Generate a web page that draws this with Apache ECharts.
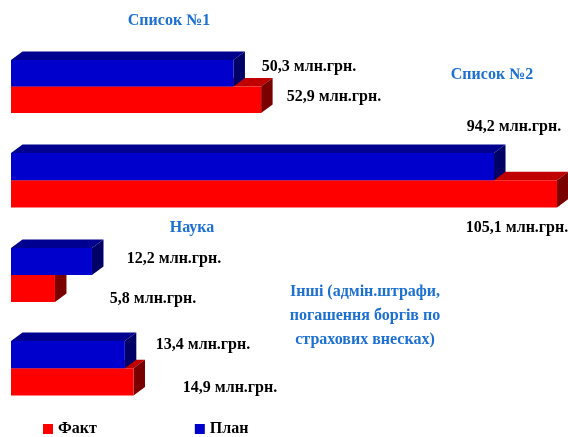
<!DOCTYPE html>
<html>
<head>
<meta charset="utf-8">
<script src="https://cdn.jsdelivr.net/npm/echarts@6/dist/echarts.min.js"></script>
<style>html,body{margin:0;padding:0;background:#fff}#c{width:568px;height:437px}</style>
</head>
<body>
<div id="c"></div>
<script>
// ---- data ----
const categories = ['Список №1', 'Список №2', 'Наука', 'Інші (адмін.штрафи,\nпогашення боргів по\nстрахових внесках)'];
const seriesNames = ['Факт', 'План'];
const factValues = [52.9, 105.1, 5.8, 14.9];
const planValues = [50.3, 94.2, 12.2, 13.4];
const unitLabel = 'млн.грн.';

// ---- layout / styles ----
const FONT = '"Liberation Serif", "Times New Roman", serif';
const panels = [
  { top: 60,  height: 53,   min: 29.4, max: 80.7,
    title: [169, 21], labels: [[334, 97], [309, 67]] },
  { top: 153, height: 54.5, min: 10.6, max: 105.1,
    title: [492, 75], labels: [[517, 228], [514, 127]] },
  { top: 248, height: 54,   min: -1.8, max: 92.6,
    title: [192, 228], labels: [[153, 299], [174, 259]] },
  { top: 341, height: 54.5, min: -6.3, max: 88.2,
    title: [365, 316], labels: [[230, 388], [203, 345]] }
];
const colors = {
  'Факт': { front: '#FF0000', top: '#C00000', side: '#7A0000' },
  'План': { front: '#0000CC', top: '#000090', side: '#000066' }
};
const DX = 11.5, DY = 8.5;

function fmt(v) { return v.toFixed(1).replace('.', ',') + ' ' + unitLabel; }

const grids = [], xAxes = [], yAxes = [], series = [], graphics = [];
panels.forEach((p, i) => {
  grids.push({ left: 11, width: 546, top: p.top, height: p.height });
  xAxes.push({ type: 'value', gridIndex: i, min: p.min, max: p.max, show: false });
  yAxes.push({ type: 'category', gridIndex: i, data: seriesNames, show: false });
  const vals = [factValues[i], planValues[i]];
  seriesNames.forEach((name, k) => {
    const col = colors[name];
    const axisMin = p.min;
    series.push({
      type: 'custom', name: name, xAxisIndex: i, yAxisIndex: i,
      itemStyle: { color: col.front },
      data: [[vals[k], k]],
      renderItem: function (params, api) {
        const v = api.value(0), c = api.value(1);
        const s = api.coord([axisMin, c]);
        const e = api.coord([v, c]);
        const h = api.size([0, 1])[1];
        const x0 = s[0], x1 = e[0], yT = e[1] - h / 2, yB = e[1] + h / 2;
        return {
          type: 'group',
          children: [
            { type: 'polygon', shape: { points: [[x0, yT], [x0 + DX, yT - DY], [x1 + DX, yT - DY], [x1, yT]] }, style: { fill: col.top } },
            { type: 'polygon', shape: { points: [[x1, yT], [x1 + DX, yT - DY], [x1 + DX, yB - DY], [x1, yB]] }, style: { fill: col.side } },
            { type: 'rect', shape: { x: x0, y: yT, width: x1 - x0, height: h }, style: { fill: col.front } }
          ]
        };
      }
    });
    graphics.push({
      type: 'text', x: p.labels[k][0], y: p.labels[k][1],
      style: { text: fmt(vals[k]), fill: '#000', font: 'bold 16px ' + FONT, align: 'center', verticalAlign: 'middle' }
    });
  });
  graphics.push({
    type: 'text', x: p.title[0], y: p.title[1],
    style: { text: categories[i], fill: '#1C70D2', font: 'bold 16px ' + FONT, align: 'center', verticalAlign: 'middle', lineHeight: 24 }
  });
});

const chart = echarts.init(document.getElementById('c'), null, { renderer: 'canvas' });
chart.setOption({
  animation: false,
  grid: grids, xAxis: xAxes, yAxis: yAxes, series: series,
  legend: {
    data: seriesNames, left: 43, top: 421, padding: 0, icon: 'rect', itemWidth: 10, itemHeight: 10,
    itemGap: 98, textStyle: { fontFamily: FONT, fontWeight: 'bold', fontSize: 16, color: '#000' }
  },
  graphic: graphics
});
</script>
</body>
</html>
